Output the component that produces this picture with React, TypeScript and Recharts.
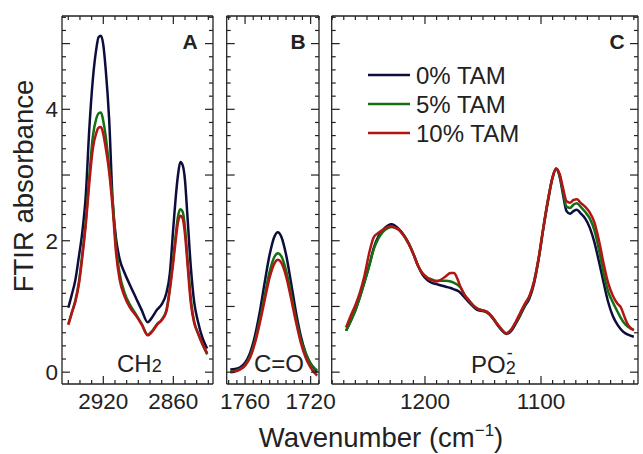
import React from "react";
import { LineChart, Line, XAxis, YAxis, ReferenceLine } from "recharts";

const SERIES = [
  { key: "tam0", name: "0% TAM", color: "#0d0d3d" },
  { key: "tam5", name: "5% TAM", color: "#137013" },
  { key: "tam10", name: "10% TAM", color: "#b31515" },
];

// panel A: CH2 stretching
const A_WAVENUMBER = [2950, 2947, 2944, 2941, 2938, 2935, 2932, 2929, 2926, 2924, 2922, 2920, 2918, 2915, 2912, 2909, 2906, 2902, 2897, 2892, 2887, 2882, 2878, 2874, 2870, 2866, 2863, 2860, 2858, 2856, 2854, 2852, 2850, 2848, 2845, 2842, 2839, 2835, 2831];
const A_TAM0 = [0.98, 1.18, 1.4, 1.75, 2.13, 2.7, 3.7, 4.45, 4.92, 5.1, 5.12, 4.98, 4.62, 3.85, 2.6, 2.02, 1.72, 1.52, 1.32, 1.13, 0.94, 0.76, 0.84, 0.95, 1.03, 1.2, 1.5, 2.2, 2.65, 3.0, 3.2, 3.15, 2.92, 2.4, 1.6, 1.05, 0.78, 0.52, 0.36];
const A_TAM5 = [0.73, 0.91, 1.09, 1.36, 1.8, 2.3, 2.98, 3.58, 3.86, 3.94, 3.95, 3.82, 3.6, 3.12, 2.6, 1.9, 1.5, 1.22, 1.02, 0.88, 0.73, 0.57, 0.63, 0.73, 0.8, 0.94, 1.28, 1.75, 2.08, 2.37, 2.48, 2.44, 2.2, 1.76, 1.12, 0.76, 0.6, 0.42, 0.27];
const A_TAM10 = [0.72, 0.9, 1.07, 1.33, 1.75, 2.25, 2.88, 3.4, 3.64, 3.72, 3.73, 3.62, 3.42, 3.05, 2.5, 1.8, 1.41, 1.16, 0.98, 0.86, 0.72, 0.56, 0.62, 0.72, 0.79, 0.92, 1.25, 1.68, 2.0, 2.28, 2.38, 2.34, 2.1, 1.68, 1.05, 0.74, 0.6, 0.43, 0.29];

// panel B: C=O stretching
const B_WAVENUMBER = [1769, 1766, 1763, 1760, 1757, 1754, 1751, 1748, 1745, 1742, 1740, 1738, 1735, 1732, 1729, 1726, 1723, 1720, 1718, 1716];
const B_TAM0 = [0.04, 0.05, 0.075, 0.145, 0.29, 0.55, 0.92, 1.37, 1.79, 2.07, 2.13, 2.07, 1.79, 1.37, 0.92, 0.55, 0.29, 0.13, 0.06, 0.0];
const B_TAM5 = [0.01, 0.02, 0.05, 0.11, 0.24, 0.47, 0.79, 1.17, 1.53, 1.76, 1.81, 1.77, 1.55, 1.2, 0.82, 0.5, 0.28, 0.13, 0.07, 0.03];
const B_TAM10 = [0.0, 0.01, 0.04, 0.1, 0.22, 0.44, 0.75, 1.1, 1.44, 1.66, 1.71, 1.67, 1.46, 1.13, 0.77, 0.45, 0.22, 0.07, 0.0, -0.05];

// panel C: PO2- stretching
const C_WAVENUMBER = [1268, 1264, 1260, 1256, 1252, 1248, 1244, 1240, 1236, 1232, 1229, 1226, 1222, 1218, 1214, 1210, 1206, 1202, 1198, 1194, 1190, 1186, 1182, 1178, 1175, 1172, 1169, 1166, 1162, 1158, 1154, 1150, 1146, 1142, 1138, 1134, 1130, 1126, 1122, 1118, 1114, 1110, 1106, 1102, 1098, 1094, 1090, 1087, 1084, 1081, 1078, 1075, 1072, 1069, 1066, 1062, 1058, 1054, 1050, 1046, 1042, 1038, 1034, 1031, 1028, 1025, 1020];
const C_TAM0 = [0.63, 0.78, 0.94, 1.15, 1.38, 1.63, 1.9, 2.07, 2.17, 2.23, 2.25, 2.23, 2.17, 2.08, 1.96, 1.8, 1.62, 1.48, 1.4, 1.36, 1.34, 1.32, 1.3, 1.28, 1.26, 1.24, 1.2, 1.14, 1.06, 0.99, 0.94, 0.93, 0.9, 0.83, 0.73, 0.64, 0.58, 0.62, 0.73, 0.86, 1.0, 1.12, 1.35, 1.72, 2.18, 2.6, 2.96, 3.09, 2.98, 2.7, 2.45, 2.41, 2.45, 2.47, 2.42, 2.34, 2.2, 1.98, 1.68, 1.36, 1.06, 0.85, 0.72, 0.65, 0.6, 0.57, 0.54];
const C_TAM5 = [0.63, 0.78, 0.94, 1.15, 1.38, 1.62, 1.88, 2.04, 2.14, 2.19, 2.21, 2.2, 2.16, 2.07, 1.95, 1.8, 1.62, 1.5, 1.44, 1.41, 1.39, 1.39, 1.39, 1.38, 1.36, 1.33, 1.28, 1.18, 1.09, 1.01, 0.96, 0.94, 0.91, 0.84, 0.74, 0.65, 0.59, 0.64, 0.75, 0.88, 1.02, 1.15, 1.38, 1.74, 2.2, 2.62, 2.97, 3.1, 3.0, 2.75, 2.52, 2.5, 2.55, 2.57, 2.52, 2.44, 2.34, 2.16, 1.86, 1.5, 1.22, 1.06, 0.92, 0.82, 0.74, 0.69, 0.64];
const C_TAM10 = [0.68, 0.86, 1.02, 1.22, 1.48, 1.82, 2.06, 2.12, 2.17, 2.21, 2.22, 2.2, 2.16, 2.07, 1.95, 1.8, 1.62, 1.5, 1.43, 1.4, 1.38, 1.41, 1.46, 1.51, 1.51, 1.42, 1.28, 1.18, 1.09, 1.01, 0.96, 0.94, 0.91, 0.84, 0.74, 0.65, 0.59, 0.64, 0.76, 0.9, 1.04, 1.16, 1.38, 1.74, 2.2, 2.62, 2.97, 3.1, 3.02, 2.8, 2.6, 2.58, 2.62, 2.63, 2.58, 2.52, 2.43, 2.28, 2.0, 1.65, 1.35, 1.16, 1.04, 0.98, 0.84, 0.72, 0.64];

const Y_DOMAIN: [number, number] = [-0.18, 5.42];
const Y_TICKS = Array.from({ length: 28 }, (_, i) => Math.round(i * 2) / 10);
const Y_LABELS = [0, 2, 4];

const A_TICKS = [2950, 2940, 2930, 2920, 2910, 2900, 2890, 2880, 2870, 2860, 2850, 2840, 2830];
const A_LABELS = [2920, 2860];
const B_TICKS = [1770, 1765, 1760, 1755, 1750, 1745, 1740, 1735, 1730, 1725, 1720, 1715];
const B_LABELS = [1760, 1720];
const C_TICKS = [1280, 1270, 1260, 1250, 1240, 1230, 1220, 1210, 1200, 1190, 1180, 1170, 1160, 1150, 1140, 1130, 1120, 1110, 1100, 1090, 1080, 1070, 1060, 1050, 1040, 1030, 1020];
const C_LABELS = [1200, 1100];

const FONT = '"Liberation Sans", Arial, sans-serif';
const INK = "#222";
const H = 454;
const PLOT_TOP = 16;
const PLOT_BOTTOM = 384;

function toRows(w: number[], s0: number[], s5: number[], s10: number[]) {
  return w.map((v, i) => ({ w: v, tam0: s0[i], tam5: s5[i], tam10: s10[i] }));
}

type PanelProps = {
  left: number;
  plotLeft: number;
  plotRight: number;
  width: number;
  rows: any[];
  domain: [number, number];
  ticks: number[];
  labels: number[];
  yLabels: boolean;
};

function Panel({ left, plotLeft, plotRight, width, rows, domain, ticks, labels, yLabels }: PanelProps) {
  const localRight = plotRight - left;
  const xTick = (p: any) => {
    const major = labels.includes(p.payload.value);
    const len = major ? 8 : 4;
    return (
      <g>
        <line x1={p.x} x2={p.x} y1={p.y} y2={p.y - len} stroke={INK} strokeWidth={1.2} />
        <line x1={p.x} x2={p.x} y1={PLOT_TOP} y2={PLOT_TOP + len} stroke={INK} strokeWidth={1.2} />
        {major && (
          <text x={p.x} y={p.y + 25} textAnchor="middle" fontFamily={FONT} fontSize={22.5} fill={INK}>
            {p.payload.value}
          </text>
        )}
      </g>
    );
  };
  const yTick = (p: any) => {
    const v = p.payload.value;
    const major = Math.abs(v - Math.round(v)) < 1e-6;
    const len = major ? 8 : 4;
    return (
      <g>
        <line x1={p.x} x2={p.x + len} y1={p.y} y2={p.y} stroke={INK} strokeWidth={1.2} />
        <line x1={localRight - len} x2={localRight} y1={p.y} y2={p.y} stroke={INK} strokeWidth={1.2} />
        {yLabels && Y_LABELS.includes(v) && (
          <text x={p.x - 4} y={p.y + 8} textAnchor="end" fontFamily={FONT} fontSize={22.5} fill={INK}>
            {v}
          </text>
        )}
      </g>
    );
  };
  return (
    <div style={{ position: "absolute", left, top: 0 }}>
      <LineChart
        width={width}
        height={H}
        data={rows}
        margin={{ top: PLOT_TOP, right: width - localRight, bottom: H - PLOT_BOTTOM - 40, left: 0 }}
      >
        <XAxis
          dataKey="w"
          type="number"
          domain={domain}
          reversed
          allowDataOverflow
          ticks={ticks}
          interval={0}
          height={40}
          tickSize={0}
          tickMargin={0}
          tickLine={false}
          axisLine={{ stroke: INK, strokeWidth: 1.3 }}
          tick={xTick}
        />
        <YAxis
          type="number"
          domain={Y_DOMAIN}
          allowDataOverflow
          ticks={Y_TICKS}
          interval={0}
          width={plotLeft - left}
          tickSize={0}
          tickMargin={0}
          tickLine={false}
          axisLine={{ stroke: INK, strokeWidth: 1.3 }}
          tick={yTick}
        />
        <ReferenceLine y={Y_DOMAIN[1]} stroke={INK} strokeWidth={1.3} />
        <ReferenceLine x={domain[0]} stroke={INK} strokeWidth={1.3} />
        {SERIES.map((s) => (
          <Line
            key={s.key}
            dataKey={s.key}
            name={s.name}
            type="monotone"
            stroke={s.color}
            strokeWidth={2.5}
            dot={false}
            isAnimationActive={false}
          />
        ))}
      </LineChart>
    </div>
  );
}

export default function App() {
  const txt = { fontFamily: FONT, fill: INK };
  return (
    <div style={{ position: "absolute", left: 0, top: 0, width: 643, height: H, background: "#fff" }}>
      <Panel
        left={0}
        plotLeft={62}
        plotRight={213}
        width={222}
        rows={toRows(A_WAVENUMBER, A_TAM0, A_TAM5, A_TAM10)}
        domain={[2826, 2955.4]}
        ticks={A_TICKS}
        labels={A_LABELS}
        yLabels
      />
      <Panel
        left={215}
        plotLeft={226.7}
        plotRight={319}
        width={130}
        rows={toRows(B_WAVENUMBER, B_TAM0, B_TAM5, B_TAM10)}
        domain={[1714.9, 1771.2]}
        ticks={B_TICKS}
        labels={B_LABELS}
        yLabels={false}
      />
      <Panel
        left={322}
        plotLeft={331.7}
        plotRight={638}
        width={321}
        rows={toRows(C_WAVENUMBER, C_TAM0, C_TAM5, C_TAM10)}
        domain={[1016.4, 1280.4]}
        ticks={C_TICKS}
        labels={C_LABELS}
        yLabels={false}
      />
      <svg width={643} height={H} style={{ position: "absolute", left: 0, top: 0, pointerEvents: "none" }}>
        <text {...txt} x={33} y={186} fontSize={27.5} textAnchor="middle" transform="rotate(-90 33 186)">
          FTIR absorbance
        </text>
        <text {...txt} x={381} y={447} fontSize={27.5} textAnchor="middle">
          Wavenumber (cm
          <tspan fontSize={17} dy={-11}>−1</tspan>
          <tspan dy={11}>)</tspan>
        </text>
        <text {...txt} x={190} y={49} fontSize={21} fontWeight="bold" textAnchor="middle">A</text>
        <text {...txt} x={298} y={49} fontSize={21} fontWeight="bold" textAnchor="middle">B</text>
        <text {...txt} x={617} y={49} fontSize={21} fontWeight="bold" textAnchor="middle">C</text>
        <text {...txt} x={117} y={372} fontSize={24}>
          CH<tspan fontSize={18}>2</tspan>
        </text>
        <text {...txt} x={279} y={372} fontSize={24} textAnchor="middle">C=O</text>
        <text {...txt} x={471} y={373} fontSize={24}>
          PO<tspan fontSize={18} dy={1}>2</tspan>
          <tspan fontSize={18} dx={-9} dy={-15}>-</tspan>
        </text>
        {SERIES.map((s, i) => (
          <g key={s.key}>
            <line x1={368} x2={410} y1={75 + i * 29} y2={75 + i * 29} stroke={s.color} strokeWidth={2.5} />
            <text {...txt} x={416} y={75 + i * 29 + 8.5} fontSize={24}>
              {s.name}
            </text>
          </g>
        ))}
      </svg>
    </div>
  );
}
